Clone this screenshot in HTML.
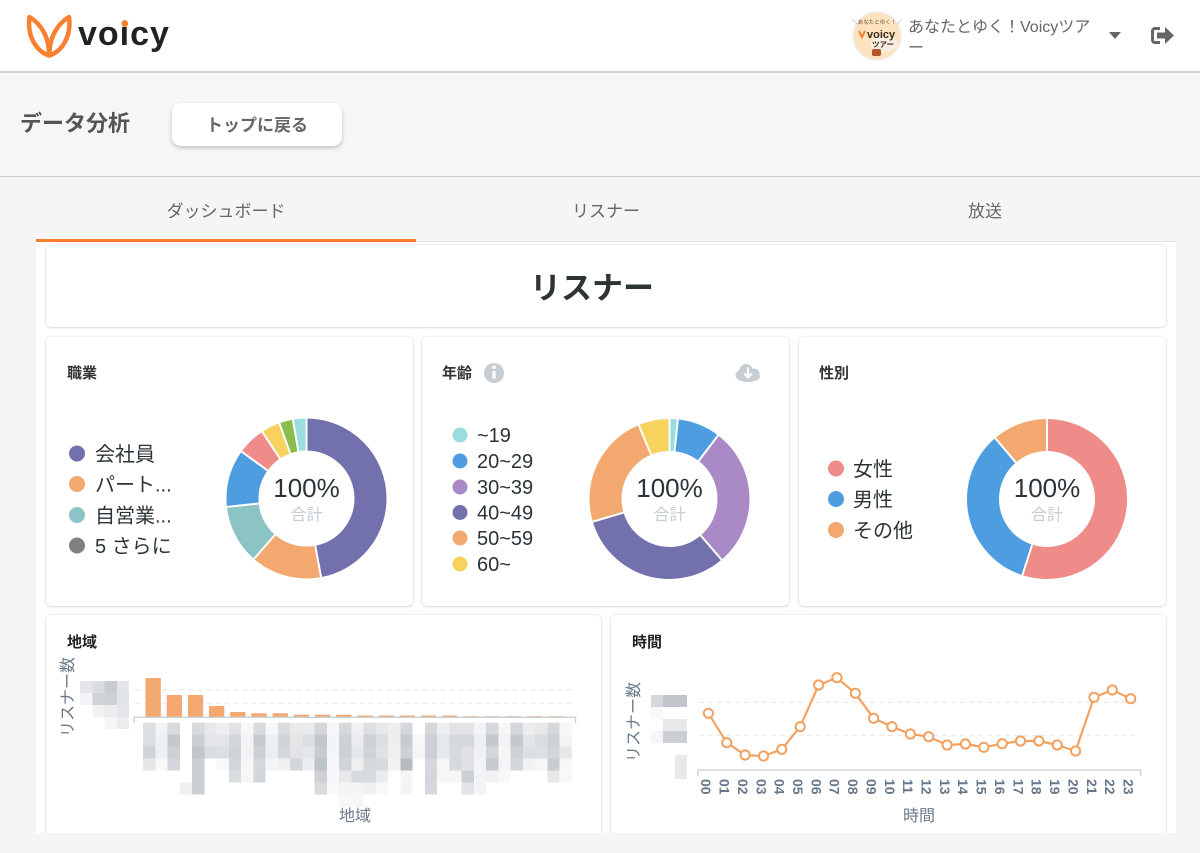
<!DOCTYPE html>
<html lang="ja">
<head>
<meta charset="utf-8">
<style>
  html,body{margin:0;padding:0;}
  body{width:1200px;height:853px;overflow:hidden;background:#f5f5f5;position:relative;
       font-family:"Liberation Sans","Noto Sans CJK JP",sans-serif;}
  .abs{position:absolute;}
  #header{left:0;top:0;width:1200px;height:71px;background:#fff;border-bottom:2px solid #d2d2d2;}
  #sec{left:0;top:73px;width:1200px;height:103px;background:#f6f6f6;border-bottom:1px solid #cfcfcf;}
  #btn{left:172px;top:103px;width:170px;height:43px;background:#fff;border-radius:9px;
       box-shadow:0 2px 4px rgba(0,0,0,0.22);}
  #tabline{left:416px;top:241px;width:760px;height:2px;background:#e2e2e2;}
  #tabact{left:36px;top:239px;width:380px;height:3px;background:#fb7b2c;}
  #cont{left:36px;top:242px;width:1140px;height:591px;background:#fff;overflow:hidden;}
  .card{position:absolute;background:#fff;border-radius:5px;
        box-shadow:0 0 2px rgba(0,0,0,0.16),0 1px 2px rgba(0,0,0,0.10);}
  #ov{position:absolute;left:0;top:0;}
</style>
</head>
<body>
<div id="header" class="abs"></div>
<div id="sec" class="abs"></div>
<div id="btn" class="abs"></div>
<div id="tabline" class="abs"></div>
<div id="tabact" class="abs"></div>
<div id="cont" class="abs">
  <div class="card" style="left:10px;top:3px;width:1120px;height:82px;"></div>
  <div class="card" style="left:10px;top:95px;width:367px;height:269px;"></div>
  <div class="card" style="left:386px;top:95px;width:367px;height:269px;"></div>
  <div class="card" style="left:763px;top:95px;width:367px;height:269px;"></div>
  <div class="card" style="left:10px;top:373px;width:555px;height:260px;"></div>
  <div class="card" style="left:575px;top:373px;width:555px;height:260px;"></div>
</div>

<svg id="ov" width="1200" height="853" viewBox="0 0 1200 853" xmlns="http://www.w3.org/2000/svg"
     font-family="Liberation Sans, Noto Sans CJK JP, sans-serif">
  <!-- ===== Header ===== -->
  <g fill="none" stroke="#f7812f" stroke-width="4.5" stroke-linejoin="round">
    <path d="M29.5,17 C27,36 36,51 49,55.5 C49.5,40 43,25 29.5,17 Z"/>
    <path d="M69,17 C71.5,36 62.5,51 49.5,55.5 C49,40 55.5,25 69,17 Z"/>
  </g>
  <text x="78" y="45" font-size="34" font-weight="bold" fill="#222" letter-spacing="1">voıcy</text>
  <circle cx="124.8" cy="23.5" r="3.4" fill="#f7812f"/>

  <!-- avatar -->
  <circle cx="877" cy="36" r="24" fill="#fde3bf" stroke="#efefef" stroke-width="1.5"/>
  <ellipse cx="884" cy="44" rx="14" ry="8" fill="#f8efe2"/>
  <text x="877" y="24" font-size="5.5" text-anchor="middle" fill="#6b4b2a">＼あなたとゆく！／</text>
  <path d="M859,31 l3,6 l3,-6" fill="none" stroke="#f7812f" stroke-width="2"/>
  <text x="867" y="38" font-size="11" font-weight="bold" fill="#3a2a1a">voicy</text>
  <text x="872" y="47" font-size="7.5" font-weight="bold" fill="#3a2a1a">ツアー</text>
  <rect x="872" y="49" width="9" height="7" rx="2" fill="#b5562a"/>

  <text x="908" y="32" font-size="16" fill="#666">あなたとゆく！Voicyツア</text>
  <text x="908" y="53" font-size="16" fill="#666">ー</text>
  <polygon points="1109,32 1121,32 1115,39" fill="#666"/>
  <!-- logout -->
  <path d="M1160,28.5 h-5 a2.5,2.5 0 0 0 -2.5,2.5 v9 a2.5,2.5 0 0 0 2.5,2.5 h5" fill="none" stroke="#666" stroke-width="3"/>
  <rect x="1157" y="32.5" width="8.5" height="6" fill="#666"/>
  <polygon points="1165,27 1174,35.5 1165,44" fill="#666"/>

  <!-- ===== Section ===== -->
  <text x="20" y="131" font-size="22" font-weight="bold" fill="#555">データ分析</text>
  <text x="257" y="131" font-size="17" font-weight="bold" fill="#666" text-anchor="middle">トップに戻る</text>

  <!-- ===== Tabs ===== -->
  <text x="226" y="217" font-size="17" fill="#666" text-anchor="middle">ダッシュボード</text>
  <text x="606" y="217" font-size="17" fill="#666" text-anchor="middle">リスナー</text>
  <text x="985" y="217" font-size="17" fill="#666" text-anchor="middle">放送</text>

  <!-- ===== Title card ===== -->
  <text x="592" y="299" font-size="31" font-weight="bold" fill="#2d3436" text-anchor="middle">リスナー</text>

  <!-- ===== Card titles ===== -->
  <text x="67" y="378" font-size="15" font-weight="bold" fill="#333">職業</text>
  <text x="442" y="378" font-size="15" font-weight="bold" fill="#333">年齢</text>
  <text x="819" y="378" font-size="15" font-weight="bold" fill="#333">性別</text>
  <text x="67" y="647" font-size="15" font-weight="bold" fill="#222">地域</text>
  <text x="632" y="647" font-size="15" font-weight="bold" fill="#222">時間</text>

  <!-- info icon -->
  <circle cx="494" cy="373" r="10" fill="#c6cdd3"/>
  <rect x="492.4" y="371" width="3.2" height="7.5" fill="#fff"/>
  <circle cx="494" cy="367.3" r="1.9" fill="#fff"/>
  <!-- download cloud -->
  <g fill="#c6cdd3">
    <ellipse cx="748" cy="376.5" rx="12" ry="5.5"/>
    <circle cx="746" cy="371" r="7"/>
    <circle cx="754.5" cy="373.5" r="5"/>
    <circle cx="740" cy="375" r="4.5"/>
  </g>
  <path d="M748,367.5 v9 M744.3,373.5 l3.7,3.8 l3.7,-3.8" fill="none" stroke="#fff" stroke-width="2.3"/>

  <!-- ===== Occupation donut ===== -->
  <g transform="rotate(-90 306.5 498.5)" fill="none" stroke-width="32">
    <circle cx="306.5" cy="498.5" r="64" stroke="#7371ad" stroke-dasharray="189.3 500" stroke-dashoffset="0"/>
    <circle cx="306.5" cy="498.5" r="64" stroke="#f2a86e" stroke-dasharray="57.5 500" stroke-dashoffset="-189.3"/>
    <circle cx="306.5" cy="498.5" r="64" stroke="#8cc3c4" stroke-dasharray="48.0 500" stroke-dashoffset="-246.8"/>
    <circle cx="306.5" cy="498.5" r="64" stroke="#4e9de0" stroke-dasharray="46.7 500" stroke-dashoffset="-294.8"/>
    <circle cx="306.5" cy="498.5" r="64" stroke="#ef8b88" stroke-dasharray="23.0 500" stroke-dashoffset="-341.5"/>
    <circle cx="306.5" cy="498.5" r="64" stroke="#f8d25f" stroke-dasharray="15.4 500" stroke-dashoffset="-364.5"/>
    <circle cx="306.5" cy="498.5" r="64" stroke="#8abd4d" stroke-dasharray="11.2 500" stroke-dashoffset="-379.9"/>
    <circle cx="306.5" cy="498.5" r="64" stroke="#9bdcdc" stroke-dasharray="11.1 500" stroke-dashoffset="-391.1"/>
  </g>
  <g stroke="#fff" stroke-width="2">
    <line x1="0" y1="-47" x2="0" y2="-81" transform="translate(306.5 498.5) rotate(0)"/>
    <line x1="0" y1="-47" x2="0" y2="-81" transform="translate(306.5 498.5) rotate(169.5)"/>
    <line x1="0" y1="-47" x2="0" y2="-81" transform="translate(306.5 498.5) rotate(221)"/>
    <line x1="0" y1="-47" x2="0" y2="-81" transform="translate(306.5 498.5) rotate(264)"/>
    <line x1="0" y1="-47" x2="0" y2="-81" transform="translate(306.5 498.5) rotate(305.8)"/>
    <line x1="0" y1="-47" x2="0" y2="-81" transform="translate(306.5 498.5) rotate(326.4)"/>
    <line x1="0" y1="-47" x2="0" y2="-81" transform="translate(306.5 498.5) rotate(340.2)"/>
    <line x1="0" y1="-47" x2="0" y2="-81" transform="translate(306.5 498.5) rotate(350.2)"/>
  </g>
  <text x="306.5" y="497" font-size="26" fill="#2c3338" text-anchor="middle">100%</text>
  <text x="306.5" y="520" font-size="16" fill="#c5ccd3" text-anchor="middle">合計</text>

  <!-- occupation legend -->
  <circle cx="77" cy="453.5" r="8" fill="#7371ad"/>
  <circle cx="77" cy="484" r="8" fill="#f2a86e"/>
  <circle cx="77" cy="515" r="8" fill="#8cc3c4"/>
  <circle cx="77" cy="545.5" r="8" fill="#808080"/>
  <g font-size="20" fill="#2c3338">
    <text x="95" y="461">会社員</text>
    <text x="95" y="491.5">パート...</text>
    <text x="95" y="522.5">自営業...</text>
    <text x="95" y="553">5 さらに</text>
  </g>

  <!-- ===== Age donut ===== -->
  <g transform="rotate(-90 669.5 499)" fill="none" stroke-width="32">
    <circle cx="669.5" cy="499" r="64" stroke="#9bdcdc" stroke-dasharray="6.7 500" stroke-dashoffset="0"/>
    <circle cx="669.5" cy="499" r="64" stroke="#4e9de0" stroke-dasharray="35.1 500" stroke-dashoffset="-6.7"/>
    <circle cx="669.5" cy="499" r="64" stroke="#a98ac6" stroke-dasharray="113.9 500" stroke-dashoffset="-41.8"/>
    <circle cx="669.5" cy="499" r="64" stroke="#7371ad" stroke-dasharray="127.5 500" stroke-dashoffset="-155.7"/>
    <circle cx="669.5" cy="499" r="64" stroke="#f2a86e" stroke-dasharray="93.7 500" stroke-dashoffset="-283.2"/>
    <circle cx="669.5" cy="499" r="64" stroke="#f8d25f" stroke-dasharray="25.3 500" stroke-dashoffset="-376.9"/>
  </g>
  <g stroke="#fff" stroke-width="2">
    <line x1="0" y1="-47" x2="0" y2="-81" transform="translate(669.5 499) rotate(0)"/>
    <line x1="0" y1="-47" x2="0" y2="-81" transform="translate(669.5 499) rotate(6)"/>
    <line x1="0" y1="-47" x2="0" y2="-81" transform="translate(669.5 499) rotate(37.4)"/>
    <line x1="0" y1="-47" x2="0" y2="-81" transform="translate(669.5 499) rotate(139.4)"/>
    <line x1="0" y1="-47" x2="0" y2="-81" transform="translate(669.5 499) rotate(253.5)"/>
    <line x1="0" y1="-47" x2="0" y2="-81" transform="translate(669.5 499) rotate(337.4)"/>
  </g>
  <text x="669.5" y="497" font-size="26" fill="#2c3338" text-anchor="middle">100%</text>
  <text x="669.5" y="520" font-size="16" fill="#c5ccd3" text-anchor="middle">合計</text>

  <!-- age legend -->
  <circle cx="460" cy="435" r="7.5" fill="#9bdcdc"/>
  <circle cx="460" cy="461" r="7.5" fill="#4e9de0"/>
  <circle cx="460" cy="487" r="7.5" fill="#a98ac6"/>
  <circle cx="460" cy="512.5" r="7.5" fill="#7371ad"/>
  <circle cx="460" cy="538" r="7.5" fill="#f2a86e"/>
  <circle cx="460" cy="564" r="7.5" fill="#f8d25f"/>
  <g font-size="20" fill="#2c3338">
    <text x="477" y="442">~19</text>
    <text x="477" y="468">20~29</text>
    <text x="477" y="494">30~39</text>
    <text x="477" y="519.5">40~49</text>
    <text x="477" y="545">50~59</text>
    <text x="477" y="571">60~</text>
  </g>

  <!-- ===== Gender donut ===== -->
  <g transform="rotate(-90 1047 499)" fill="none" stroke-width="32">
    <circle cx="1047" cy="499" r="64" stroke="#ef8b88" stroke-dasharray="221.1 500" stroke-dashoffset="0"/>
    <circle cx="1047" cy="499" r="64" stroke="#4e9de0" stroke-dasharray="135.9 500" stroke-dashoffset="-221.1"/>
    <circle cx="1047" cy="499" r="64" stroke="#f2a86e" stroke-dasharray="45.2 500" stroke-dashoffset="-357.0"/>
  </g>
  <g stroke="#fff" stroke-width="2">
    <line x1="0" y1="-47" x2="0" y2="-81" transform="translate(1047 499) rotate(0)"/>
    <line x1="0" y1="-47" x2="0" y2="-81" transform="translate(1047 499) rotate(197.9)"/>
    <line x1="0" y1="-47" x2="0" y2="-81" transform="translate(1047 499) rotate(319.6)"/>
  </g>
  <text x="1047" y="497" font-size="26" fill="#2c3338" text-anchor="middle">100%</text>
  <text x="1047" y="520" font-size="16" fill="#c5ccd3" text-anchor="middle">合計</text>

  <circle cx="836" cy="468.5" r="8" fill="#ef8b88"/>
  <circle cx="836" cy="499" r="8" fill="#4e9de0"/>
  <circle cx="836" cy="530" r="8" fill="#f2a86e"/>
  <g font-size="20" fill="#2c3338">
    <text x="853" y="476">女性</text>
    <text x="853" y="506.5">男性</text>
    <text x="853" y="537.5">その他</text>
  </g>

  <!-- ===== Region chart ===== -->
  <text transform="translate(73 697) rotate(-90)" font-size="16" fill="#6b7a89" text-anchor="middle">リスナー数</text>
  <g stroke="#e6e6e6" stroke-dasharray="5 4" stroke-width="1">
    <line x1="134.5" y1="690" x2="571" y2="690"/>
    <line x1="134.5" y1="703.3" x2="571" y2="703.3"/>
  </g>
  <g fill="#f2a86e">
    <rect x="145.5" y="678" width="15.3" height="39.3"/>
    <rect x="166.7" y="695" width="15.3" height="22.3"/>
    <rect x="187.9" y="695" width="15.3" height="22.3"/>
    <rect x="209.0" y="706" width="15.3" height="11.3"/>
    <rect x="230.2" y="712" width="15.3" height="5.3"/>
    <rect x="251.4" y="713.3" width="15.3" height="4"/>
    <rect x="272.6" y="713.3" width="15.3" height="4"/>
    <rect x="293.8" y="714.7" width="15.3" height="2.6"/>
    <rect x="314.9" y="714.7" width="15.3" height="2.6"/>
    <rect x="336.1" y="714.7" width="15.3" height="2.6"/>
    <rect x="357.3" y="715.5" width="15.3" height="1.8"/>
    <rect x="378.5" y="715.5" width="15.3" height="1.8"/>
    <rect x="399.7" y="715.5" width="15.3" height="1.8"/>
    <rect x="420.8" y="715.5" width="15.3" height="1.8"/>
    <rect x="442.0" y="715.5" width="15.3" height="1.8"/>
    <rect x="463.2" y="716.2" width="15.3" height="1.1"/>
    <rect x="484.4" y="716.2" width="15.3" height="1.1"/>
    <rect x="505.6" y="716.2" width="15.3" height="1.1"/>
    <rect x="526.7" y="716.2" width="15.3" height="1.1"/>
    <rect x="547.9" y="716.2" width="15.3" height="1.1"/>
  </g>
  <path d="M134,723 V717.3 H575.6 V723" fill="none" stroke="#c8d0d8" stroke-width="1.3"/>
  <!-- y tick mosaic -->
  <svg x="80" y="681" width="49" height="48" viewBox="0 0 4 4" preserveAspectRatio="none" shape-rendering="crispEdges">
    <rect x="0" y="0" width="1" height="1" fill="#e5e6e9"/><rect x="1" y="0" width="1" height="1" fill="#dadde0"/><rect x="2" y="0" width="1" height="1" fill="#c8ccd1"/><rect x="3" y="0" width="1" height="1" fill="#e2e4e7"/>
    <rect x="0" y="1" width="1" height="1" fill="#f3f4f5"/><rect x="1" y="1" width="1" height="1" fill="#cfd2d6"/><rect x="2" y="1" width="1" height="1" fill="#cdd0d5"/><rect x="3" y="1" width="1" height="1" fill="#e2e4e7"/>
    <rect x="1" y="2" width="1" height="1" fill="#f1f2f3"/><rect x="2" y="2" width="1" height="1" fill="#ebecee"/><rect x="3" y="2" width="1" height="1" fill="#e3e5e8"/>
    <rect x="2" y="3" width="1" height="1" fill="#f4f5f6"/><rect x="3" y="3" width="1" height="1" fill="#ebeced"/>
  </svg>
  <!-- x label mosaic -->
  <svg x="143" y="722.7" width="428.75" height="84" viewBox="0 0 35 7" preserveAspectRatio="none" shape-rendering="crispEdges">
    <g>
      <rect x="0" y="0" width="1" height="1" fill="#dcdfe2"/><rect x="1" y="0" width="1" height="1" fill="#f2f3f4"/><rect x="2" y="0" width="1" height="1" fill="#d8dbde"/><rect x="4" y="0" width="1" height="1" fill="#d8dbde"/><rect x="5" y="0" width="1" height="1" fill="#e7e8eb"/><rect x="6" y="0" width="1" height="1" fill="#eceef0"/><rect x="7" y="0" width="1" height="1" fill="#e0e2e5"/><rect x="8" y="0" width="1" height="1" fill="#f6f7f7"/><rect x="9" y="0" width="1" height="1" fill="#d8dbde"/><rect x="10" y="0" width="1" height="1" fill="#f6f7f7"/><rect x="11" y="0" width="1" height="1" fill="#dadde0"/><rect x="12" y="0" width="1" height="1" fill="#e7e9eb"/><rect x="13" y="0" width="1" height="1" fill="#eaebed"/><rect x="14" y="0" width="1" height="1" fill="#d3d6da"/><rect x="15" y="0" width="1" height="1" fill="#f7f7f8"/><rect x="16" y="0" width="1" height="1" fill="#d6d9dc"/><rect x="17" y="0" width="1" height="1" fill="#f0f1f2"/><rect x="18" y="0" width="1" height="1" fill="#dcdfe2"/><rect x="19" y="0" width="1" height="1" fill="#e6e7ea"/><rect x="20" y="0" width="1" height="1" fill="#eceef0"/><rect x="21" y="0" width="1" height="1" fill="#d4d7db"/><rect x="23" y="0" width="1" height="1" fill="#d6d9dc"/><rect x="24" y="0" width="1" height="1" fill="#edeef0"/><rect x="25" y="0" width="1" height="1" fill="#e1e3e6"/><rect x="26" y="0" width="1" height="1" fill="#e3e5e8"/><rect x="27" y="0" width="1" height="1" fill="#f3f4f5"/><rect x="28" y="0" width="1" height="1" fill="#d5d8dc"/><rect x="29" y="0" width="1" height="1" fill="#f7f7f8"/><rect x="30" y="0" width="1" height="1" fill="#d4d7db"/><rect x="31" y="0" width="1" height="1" fill="#ecedef"/><rect x="32" y="0" width="1" height="1" fill="#e6e8ea"/><rect x="33" y="0" width="1" height="1" fill="#d6d9dc"/><rect x="34" y="0" width="1" height="1" fill="#f7f7f8"/>
    </g>
    <g>
      <rect x="0" y="1" width="1" height="1" fill="#dcdfe2"/><rect x="1" y="1" width="1" height="1" fill="#eff0f1"/><rect x="2" y="1" width="1" height="1" fill="#c5c9ce"/><rect x="4" y="1" width="1" height="1" fill="#ccd0d4"/><rect x="5" y="1" width="1" height="1" fill="#e3e5e8"/><rect x="6" y="1" width="1" height="1" fill="#e3e5e8"/><rect x="7" y="1" width="1" height="1" fill="#d3d6da"/><rect x="8" y="1" width="1" height="1" fill="#f3f4f5"/><rect x="9" y="1" width="1" height="1" fill="#c7cbd0"/><rect x="10" y="1" width="1" height="1" fill="#eeeff0"/><rect x="11" y="1" width="1" height="1" fill="#d1d5d9"/><rect x="12" y="1" width="1" height="1" fill="#e4e6e8"/><rect x="13" y="1" width="1" height="1" fill="#dcdfe2"/><rect x="14" y="1" width="1" height="1" fill="#c2c7cc"/><rect x="15" y="1" width="1" height="1" fill="#f4f5f6"/><rect x="16" y="1" width="1" height="1" fill="#cdd1d5"/><rect x="17" y="1" width="1" height="1" fill="#ebecee"/><rect x="18" y="1" width="1" height="1" fill="#cdd1d5"/><rect x="19" y="1" width="1" height="1" fill="#dcdee1"/><rect x="20" y="1" width="1" height="1" fill="#eceef0"/><rect x="21" y="1" width="1" height="1" fill="#c8ccd1"/><rect x="22" y="1" width="1" height="1" fill="#f8f8f9"/><rect x="23" y="1" width="1" height="1" fill="#cdd1d5"/><rect x="24" y="1" width="1" height="1" fill="#e6e8ea"/><rect x="25" y="1" width="1" height="1" fill="#d5d8dc"/><rect x="26" y="1" width="1" height="1" fill="#d4d7db"/><rect x="27" y="1" width="1" height="1" fill="#eeeff1"/><rect x="28" y="1" width="1" height="1" fill="#c5c9ce"/><rect x="29" y="1" width="1" height="1" fill="#f1f2f3"/><rect x="30" y="1" width="1" height="1" fill="#c5c9ce"/><rect x="31" y="1" width="1" height="1" fill="#e3e5e7"/><rect x="32" y="1" width="1" height="1" fill="#d9dce0"/><rect x="33" y="1" width="1" height="1" fill="#ced2d6"/><rect x="34" y="1" width="1" height="1" fill="#f3f4f5"/>
    </g>
    <g>
      <rect x="0" y="2" width="1" height="1" fill="#d0d3d7"/><rect x="1" y="2" width="1" height="1" fill="#eeeff0"/><rect x="2" y="2" width="1" height="1" fill="#cdd1d5"/><rect x="4" y="2" width="1" height="1" fill="#c2c6cc"/><rect x="5" y="2" width="1" height="1" fill="#dadde0"/><rect x="6" y="2" width="1" height="1" fill="#dcdfe2"/><rect x="7" y="2" width="1" height="1" fill="#d0d3d7"/><rect x="8" y="2" width="1" height="1" fill="#f2f3f4"/><rect x="9" y="2" width="1" height="1" fill="#cdd0d5"/><rect x="10" y="2" width="1" height="1" fill="#ebedef"/><rect x="11" y="2" width="1" height="1" fill="#d4d7db"/><rect x="12" y="2" width="1" height="1" fill="#e2e4e7"/><rect x="13" y="2" width="1" height="1" fill="#e4e6e8"/><rect x="14" y="2" width="1" height="1" fill="#c9cdd2"/><rect x="15" y="2" width="1" height="1" fill="#f4f5f5"/><rect x="16" y="2" width="1" height="1" fill="#cdd1d5"/><rect x="17" y="2" width="1" height="1" fill="#e5e7e9"/><rect x="18" y="2" width="1" height="1" fill="#d0d3d7"/><rect x="19" y="2" width="1" height="1" fill="#dfe1e4"/><rect x="20" y="2" width="1" height="1" fill="#eeeff0"/><rect x="21" y="2" width="1" height="1" fill="#ced2d6"/><rect x="22" y="2" width="1" height="1" fill="#f6f6f7"/><rect x="23" y="2" width="1" height="1" fill="#ccd0d4"/><rect x="24" y="2" width="1" height="1" fill="#e8e9eb"/><rect x="25" y="2" width="1" height="1" fill="#d7dade"/><rect x="26" y="2" width="1" height="1" fill="#dfe1e4"/><rect x="27" y="2" width="1" height="1" fill="#f0f1f2"/><rect x="28" y="2" width="1" height="1" fill="#d3d6da"/><rect x="29" y="2" width="1" height="1" fill="#f5f6f6"/><rect x="30" y="2" width="1" height="1" fill="#cfd3d7"/><rect x="31" y="2" width="1" height="1" fill="#dcdfe2"/><rect x="32" y="2" width="1" height="1" fill="#dddfe2"/><rect x="33" y="2" width="1" height="1" fill="#d2d5d9"/><rect x="34" y="2" width="1" height="1" fill="#e5e7e9"/>
    </g>
    <g>
      <rect x="0" y="3" width="1" height="1" fill="#e5e7e9"/><rect x="1" y="3" width="1" height="1" fill="#f8f8f9"/><rect x="2" y="3" width="1" height="1" fill="#d3d6da"/><rect x="4" y="3" width="1" height="1" fill="#ccd0d4"/><rect x="6" y="3" width="1" height="1" fill="#f8f8f9"/><rect x="7" y="3" width="1" height="1" fill="#d3d6da"/><rect x="8" y="3" width="1" height="1" fill="#f5f6f6"/><rect x="9" y="3" width="1" height="1" fill="#d4d7db"/><rect x="10" y="3" width="1" height="1" fill="#f3f4f5"/><rect x="11" y="3" width="1" height="1" fill="#eff0f1"/><rect x="12" y="3" width="1" height="1" fill="#d3d6da"/><rect x="13" y="3" width="1" height="1" fill="#eceef0"/><rect x="14" y="3" width="1" height="1" fill="#bfc4c9"/><rect x="15" y="3" width="1" height="1" fill="#f7f7f8"/><rect x="16" y="3" width="1" height="1" fill="#d1d4d8"/><rect x="17" y="3" width="1" height="1" fill="#eeeff0"/><rect x="18" y="3" width="1" height="1" fill="#d6d9dc"/><rect x="19" y="3" width="1" height="1" fill="#d8dbde"/><rect x="20" y="3" width="1" height="1" fill="#f1f2f3"/><rect x="21" y="3" width="1" height="1" fill="#b7bcc3"/><rect x="23" y="3" width="1" height="1" fill="#d5d8dc"/><rect x="24" y="3" width="1" height="1" fill="#f6f6f7"/><rect x="25" y="3" width="1" height="1" fill="#d6d9dd"/><rect x="26" y="3" width="1" height="1" fill="#dfe1e4"/><rect x="27" y="3" width="1" height="1" fill="#f2f3f4"/><rect x="28" y="3" width="1" height="1" fill="#c7cbd0"/><rect x="29" y="3" width="1" height="1" fill="#f3f4f5"/><rect x="30" y="3" width="1" height="1" fill="#d3d6da"/><rect x="31" y="3" width="1" height="1" fill="#f1f2f3"/><rect x="32" y="3" width="1" height="1" fill="#f7f7f8"/><rect x="33" y="3" width="1" height="1" fill="#c9cdd1"/><rect x="34" y="3" width="1" height="1" fill="#f6f7f7"/>
    </g>
    <g>
      <rect x="4" y="4" width="1" height="1" fill="#ccd0d4"/><rect x="7" y="4" width="1" height="1" fill="#dadde0"/><rect x="8" y="4" width="1" height="1" fill="#f7f7f8"/><rect x="9" y="4" width="1" height="1" fill="#d3d6da"/><rect x="14" y="4" width="1" height="1" fill="#cdd1d5"/><rect x="15" y="4" width="1" height="1" fill="#f7f7f8"/><rect x="16" y="4" width="1" height="1" fill="#e6e8ea"/><rect x="17" y="4" width="1" height="1" fill="#d8dbde"/><rect x="18" y="4" width="1" height="1" fill="#d8dbde"/><rect x="19" y="4" width="1" height="1" fill="#ebecee"/><rect x="21" y="4" width="1" height="1" fill="#f4f5f5"/><rect x="23" y="4" width="1" height="1" fill="#d3d6da"/><rect x="24" y="4" width="1" height="1" fill="#f5f6f6"/><rect x="25" y="4" width="1" height="1" fill="#f6f6f7"/><rect x="26" y="4" width="1" height="1" fill="#ccd0d4"/><rect x="27" y="4" width="1" height="1" fill="#f3f4f5"/><rect x="28" y="4" width="1" height="1" fill="#f0f1f2"/><rect x="29" y="4" width="1" height="1" fill="#f8f8f9"/><rect x="33" y="4" width="1" height="1" fill="#e5e7e9"/><rect x="34" y="4" width="1" height="1" fill="#f8f8f9"/>
      <rect x="3" y="5" width="1" height="1" fill="#eeeff0"/><rect x="4" y="5" width="1" height="1" fill="#ccd0d4"/><rect x="14" y="5" width="1" height="1" fill="#d8dbde"/><rect x="15" y="5" width="1" height="1" fill="#f8f8f9"/><rect x="16" y="5" width="1" height="1" fill="#f3f4f5"/><rect x="17" y="5" width="1" height="1" fill="#f4f5f6"/><rect x="18" y="5" width="1" height="1" fill="#eff0f1"/><rect x="19" y="5" width="1" height="1" fill="#f8f8f9"/><rect x="21" y="5" width="1" height="1" fill="#f3f4f5"/><rect x="23" y="5" width="1" height="1" fill="#d5d8dc"/><rect x="26" y="5" width="1" height="1" fill="#e2e4e7"/><rect x="27" y="5" width="1" height="1" fill="#f3f4f5"/>
      <rect x="16" y="6" width="1" height="1" fill="#f8f8f9"/><rect x="17" y="6" width="1" height="1" fill="#f6f6f7"/>
    </g>
  </svg>
  <text x="355" y="821" font-size="16" fill="#6b7a89" text-anchor="middle">地域</text>

  <!-- ===== Time chart ===== -->
  <text transform="translate(639 722) rotate(-90)" font-size="16" fill="#6b7a89" text-anchor="middle">リスナー数</text>
  <g stroke="#e6e6e6" stroke-dasharray="5 4" stroke-width="1">
    <line x1="699" y1="702.3" x2="1135" y2="702.3"/>
    <line x1="699" y1="735.3" x2="1135" y2="735.3"/>
  </g>
  <svg x="651" y="695" width="36" height="96" viewBox="0 0 3 8" preserveAspectRatio="none" shape-rendering="crispEdges">
    <rect x="0" y="0" width="1" height="1" fill="#d5d8dc"/><rect x="1" y="0" width="2" height="1" fill="#c0c5cb"/>
    <rect x="0" y="1" width="1" height="1" fill="#f8f8f9"/>
    <rect x="1" y="2" width="2" height="1" fill="#e8e9eb"/>
    <rect x="0" y="3" width="1" height="1" fill="#f6f6f7"/><rect x="1" y="3" width="2" height="1" fill="#cbcfd4"/>
    <rect x="2" y="5" width="1" height="2" fill="#e8e9eb"/>
  </svg>
  <path d="M698,776 V770 H1140.7 V776" fill="none" stroke="#c8d0d8" stroke-width="1.3"/>
  <polyline fill="none" stroke="#f3a160" stroke-width="2.2" stroke-linejoin="round"
    points="708.4,713.3 726.8,742.7 745.1,755 763.5,756 781.8,749.3 800.2,726.7 818.6,685 836.9,677.7 855.3,693.3 873.6,718.3 892.0,726.7 910.4,734 928.7,736.7 947.1,745 965.4,744 983.8,747.3 1002.2,743.7 1020.5,741 1038.9,741 1057.2,745 1075.6,751 1094.0,697.3 1112.3,690 1130.7,698.7"/>
  <g fill="#fff" stroke="#f3a160" stroke-width="2">
    <circle cx="708.4" cy="713.3" r="4.6"/><circle cx="726.8" cy="742.7" r="4.6"/><circle cx="745.1" cy="755" r="4.6"/><circle cx="763.5" cy="756" r="4.6"/><circle cx="781.8" cy="749.3" r="4.6"/><circle cx="800.2" cy="726.7" r="4.6"/><circle cx="818.6" cy="685" r="4.6"/><circle cx="836.9" cy="677.7" r="4.6"/><circle cx="855.3" cy="693.3" r="4.6"/><circle cx="873.6" cy="718.3" r="4.6"/><circle cx="892.0" cy="726.7" r="4.6"/><circle cx="910.4" cy="734" r="4.6"/><circle cx="928.7" cy="736.7" r="4.6"/><circle cx="947.1" cy="745" r="4.6"/><circle cx="965.4" cy="744" r="4.6"/><circle cx="983.8" cy="747.3" r="4.6"/><circle cx="1002.2" cy="743.7" r="4.6"/><circle cx="1020.5" cy="741" r="4.6"/><circle cx="1038.9" cy="741" r="4.6"/><circle cx="1057.2" cy="745" r="4.6"/><circle cx="1075.6" cy="751" r="4.6"/><circle cx="1094.0" cy="697.3" r="4.6"/><circle cx="1112.3" cy="690" r="4.6"/><circle cx="1130.7" cy="698.7" r="4.6"/>
  </g>
  <g font-size="14" font-weight="bold" fill="#67788a">
    <text transform="translate(701.2 779) rotate(90)">00</text>
    <text transform="translate(719.6 779) rotate(90)">01</text>
    <text transform="translate(737.9 779) rotate(90)">02</text>
    <text transform="translate(756.3 779) rotate(90)">03</text>
    <text transform="translate(774.6 779) rotate(90)">04</text>
    <text transform="translate(793.0 779) rotate(90)">05</text>
    <text transform="translate(811.4 779) rotate(90)">06</text>
    <text transform="translate(829.7 779) rotate(90)">07</text>
    <text transform="translate(848.1 779) rotate(90)">08</text>
    <text transform="translate(866.4 779) rotate(90)">09</text>
    <text transform="translate(884.8 779) rotate(90)">10</text>
    <text transform="translate(903.2 779) rotate(90)">11</text>
    <text transform="translate(921.5 779) rotate(90)">12</text>
    <text transform="translate(939.9 779) rotate(90)">13</text>
    <text transform="translate(958.2 779) rotate(90)">14</text>
    <text transform="translate(976.6 779) rotate(90)">15</text>
    <text transform="translate(995.0 779) rotate(90)">16</text>
    <text transform="translate(1013.3 779) rotate(90)">17</text>
    <text transform="translate(1031.7 779) rotate(90)">18</text>
    <text transform="translate(1050.0 779) rotate(90)">19</text>
    <text transform="translate(1068.4 779) rotate(90)">20</text>
    <text transform="translate(1086.8 779) rotate(90)">21</text>
    <text transform="translate(1105.1 779) rotate(90)">22</text>
    <text transform="translate(1123.5 779) rotate(90)">23</text>
  </g>
  <text x="919" y="821" font-size="16" fill="#6b7a89" text-anchor="middle">時間</text>

  <!-- bottom gray band (clip below container) -->
  <rect x="0" y="833" width="1200" height="20" fill="#f5f5f5"/>
</svg>
</body>
</html>
